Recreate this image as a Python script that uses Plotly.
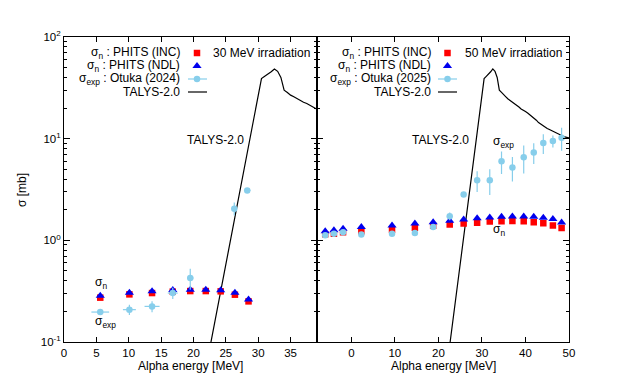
import plotly.graph_objects as go

# ---------------- data ----------------
# 30 MeV irradiation (left panel)
E30_sim = [5.6, 10.1, 13.6, 16.8, 19.5, 21.9, 24.2, 26.4, 28.5]
sig30_inc = [0.273, 0.294, 0.303, 0.313, 0.317, 0.317, 0.315, 0.292, 0.251]
sig30_ndl = [0.285, 0.305, 0.315, 0.325, 0.327, 0.327, 0.322, 0.305, 0.262]
E30_exp = [5.6, 10.1, 13.6, 16.8, 19.5, 26.3, 28.3]
E30_exp_err = [1.37, 1.0, 1.16, 0.77, 0.5, 0.4, 0.5]
sig30_exp = [0.197, 0.208, 0.224, 0.303, 0.426, 2.05, 3.1]
sig30_exp_err = [0.01, 0.024, 0.028, 0.038, 0.1, 0.3, 0.1]

# 50 MeV irradiation (right panel)
E50 = [-6.0, -4.0, -1.9, 2.3, 9.35, 14.6, 18.8, 22.6, 25.8, 28.9, 31.8, 34.5,
       37.0, 39.6, 41.9, 44.1, 46.3, 48.3]
sig50_inc = [1.15, 1.16, 1.20, 1.23, 1.27, 1.33, 1.39, 1.43, 1.46, 1.49, 1.53,
             1.54, 1.55, 1.54, 1.51, 1.47, 1.40, 1.32]
sig50_ndl = [1.23, 1.26, 1.30, 1.35, 1.40, 1.46, 1.51, 1.56, 1.60, 1.65, 1.68,
             1.71, 1.72, 1.72, 1.71, 1.67, 1.62, 1.50]
sig50_exp = [1.12, 1.16, 1.20, 1.14, 1.16, 1.18, 1.35, 1.73, 2.83, 3.89, 3.89,
             5.98, 5.19, 6.55, 7.33, 9.05, 9.47, 10.2]
sig50_exp_err = [0.05, 0.05, 0.05, 0.05, 0.05, 0.05, 0.08, 0.15, 0.15, 0.9, 1.1,
                 1.5, 1.4, 2.0, 1.7, 2.0, 1.3, 2.6]

# TALYS-2.0
E_talys = [22.0, 23, 24, 25, 26, 27, 28, 29, 30, 30.5, 31, 31.5, 32, 32.5, 33,
           33.5, 34, 34.5, 35, 35.5, 36, 36.5, 37, 37.5, 38, 38.5, 39, 39.5, 40,
           40.5, 41, 41.5, 42, 42.5, 43, 43.5, 44, 44.5, 45, 45.5, 46, 46.5, 47,
           47.5, 48, 48.5, 49, 49.5, 50]
sig_talys = [0.0586, 0.126, 0.27, 0.58, 1.25, 2.68, 5.75, 12.4, 26.5, 39, 41,
             43, 45.5, 48.5, 46, 40, 30, 28.5, 26.8, 25.8, 24.6, 23.8, 22.8,
             22.2, 21.2, 20.5, 19.6, 19.2, 18.5, 17.9, 17.2, 16.6, 15.8, 15.2,
             14.4, 13.9, 13.3, 13.0, 12.6, 12.3, 12.0, 11.7, 11.4, 11.1, 10.9,
             10.7, 10.4, 10.3, 10.2]

y_tickvals = [0.1, 1, 10, 100]
y_ticktext = ["10<sup>-1</sup>", "10<sup>0</sup>", "10<sup>1</sup>", "10<sup>2</sup>"]
x30_ticks = [0, 5, 10, 15, 20, 25, 30, 35]
x50_ticks = [0, 10, 20, 30, 40, 50]

RED = "#ff0000"
BLUE = "#0000ee"
SKY = "#87ceeb"
FONT = "Liberation Sans, Arial, sans-serif"

# page body has an 8 px margin; plot area in window pixels: x 64..569, y 37..342
OFF = 8
PX0, PX1, PY0, PY1 = 64, 569, 37, 342
W, H = 634 - OFF, 381 - OFF

fig = go.Figure()

def add_panel(xa, ya, E_sim, inc, ndl, E_exp, exp, exp_err, E_exp_err=None):
    fig.add_trace(go.Scatter(x=E_talys, y=sig_talys, mode="lines",
                             line=dict(color="black", width=1.2),
                             xaxis=xa, yaxis=ya, showlegend=False))
    fig.add_trace(go.Scatter(x=E_sim, y=inc, mode="markers",
                             marker=dict(symbol="square", size=6.5, color=RED),
                             xaxis=xa, yaxis=ya, showlegend=False))
    fig.add_trace(go.Scatter(x=E_sim, y=ndl, mode="markers",
                             marker=dict(symbol="triangle-up", size=8, color=BLUE),
                             xaxis=xa, yaxis=ya, showlegend=False))
    ex = None
    if E_exp_err is not None:
        ex = dict(type="data", array=E_exp_err, color=SKY, thickness=1.2, width=0)
    fig.add_trace(go.Scatter(x=E_exp, y=exp, mode="markers",
                             marker=dict(symbol="circle", size=6.5, color=SKY),
                             error_y=dict(type="data", array=exp_err, color=SKY,
                                          thickness=1.2, width=0),
                             error_x=ex,
                             xaxis=xa, yaxis=ya, showlegend=False))

add_panel("x", "y", E30_sim, sig30_inc, sig30_ndl, E30_exp, sig30_exp,
          sig30_exp_err, E30_exp_err)
add_panel("x2", "y2", E50, sig50_inc, sig50_ndl, E50, sig50_exp, sig50_exp_err)

# ---- legend keys on an overlay pixel axis ----
def legend_keys(xsym, x0, x1, rows):
    fig.add_trace(go.Scatter(x=[xsym], y=[rows[0]], mode="markers",
                             marker=dict(symbol="square", size=6.5, color=RED),
                             xaxis="x3", yaxis="y3", showlegend=False))
    fig.add_trace(go.Scatter(x=[xsym], y=[rows[1]], mode="markers",
                             marker=dict(symbol="triangle-up", size=8, color=BLUE),
                             xaxis="x3", yaxis="y3", showlegend=False))
    fig.add_trace(go.Scatter(x=[x0, xsym, x1], y=[rows[2]] * 3, mode="lines",
                             line=dict(color=SKY, width=1.2),
                             xaxis="x3", yaxis="y3", showlegend=False))
    fig.add_trace(go.Scatter(x=[xsym], y=[rows[2]], mode="markers",
                             marker=dict(symbol="circle", size=6.5, color=SKY),
                             xaxis="x3", yaxis="y3", showlegend=False))
    fig.add_trace(go.Scatter(x=[x0, x1], y=[rows[3]] * 2, mode="lines",
                             line=dict(color="black", width=1.2),
                             xaxis="x3", yaxis="y3", showlegend=False))

rows = [53, 66, 79, 92]
legend_keys(197, 188, 207, rows)
legend_keys(447.5, 438, 457, rows)

ann = []
def txt(x, y, s, xanchor="right", size=12, angle=0):
    # x, y in window pixels -> paper coordinates of the plot area
    xp = (x - PX0) / (PX1 - PX0)
    yp = (PY1 - y) / (PY1 - PY0)
    ann.append(dict(x=xp, y=yp, xref="paper", yref="paper", text=s,
                    showarrow=False, xanchor=xanchor, yanchor="middle",
                    textangle=angle,
                    font=dict(family=FONT, size=size, color="black")))

labels30 = ["σ<sub>n</sub> : PHITS (INC)", "σ<sub>n</sub> : PHITS (NDL)",
            "σ<sub>exp</sub> : Otuka (2024)", "TALYS-2.0"]
labels50 = ["σ<sub>n</sub> : PHITS (INC)", "σ<sub>n</sub> : PHITS (NDL)",
            "σ<sub>exp</sub> : Otuka (2025)", "TALYS-2.0"]
for r, s in zip(rows, labels30):
    txt(182, r, s)
for r, s in zip(rows, labels50):
    txt(432.5, r, s)
txt(312, 53, "30 MeV irradiation")
txt(564, 53, "50 MeV irradiation")

# in-plot labels
txt(215, 140, "TALYS-2.0", xanchor="center")
txt(93, 283, "σ<sub>n</sub>", xanchor="left")
txt(93, 322, "σ<sub>exp</sub>", xanchor="left")
txt(440, 140, "TALYS-2.0", xanchor="center")
txt(491, 142, "σ<sub>exp</sub>", xanchor="left")
txt(491, 230, "σ<sub>n</sub>", xanchor="left")

# axis titles
txt(22, 190, "σ [mb]", xanchor="center", angle=-90)
txt(190, 366, "Alpha energy [MeV]", xanchor="center")
txt(443, 366, "Alpha energy [MeV]", xanchor="center")

fig.update_layout(annotations=ann)

common_x = dict(showline=True, linecolor="black", linewidth=1, mirror="ticks",
                ticks="inside", ticklen=5, tickcolor="black", tickwidth=1,
                showgrid=False, zeroline=False,
                tickfont=dict(family=FONT, size=11.5, color="black"))
minor_y = dict(ticks="inside", ticklen=3, tickcolor="black", tickwidth=1,
               tickmode="array",
               tickvals=[a * m for m in (0.1, 1, 10) for a in range(2, 10)],
               showgrid=False)
common_y = dict(type="log", range=[-1, 2], showline=True, linecolor="black",
                linewidth=1, mirror="ticks", ticks="inside", ticklen=6,
                tickcolor="black", tickwidth=1, showgrid=False, zeroline=False,
                tickmode="array", tickvals=y_tickvals, ticktext=y_ticktext,
                minor=minor_y,
                tickfont=dict(family=FONT, size=11.5, color="black"))

fig.update_layout(
    width=W, height=H,
    margin=dict(l=PX0 - OFF, r=W - (PX1 - OFF), t=PY0 - OFF, b=H - (PY1 - OFF)),
    paper_bgcolor="white", plot_bgcolor="rgba(0,0,0,0)",
    font=dict(family=FONT, size=12, color="black"),
    showlegend=False,
    xaxis=dict(domain=[0, 0.5], range=[0, 39], tickmode="array",
               tickvals=x30_ticks, anchor="y", **common_x),
    xaxis2=dict(domain=[0.5, 1], range=[-8, 50], tickmode="array",
                tickvals=x50_ticks, anchor="y2", **common_x),
    yaxis=dict(domain=[0, 1], anchor="x", **common_y),
    yaxis2=dict(domain=[0, 1], anchor="x2", showticklabels=False, **common_y),
    xaxis3=dict(domain=[0, 1], range=[PX0, PX1], visible=False, anchor="y3",
                fixedrange=True),
    yaxis3=dict(domain=[0, 1], range=[PY1, PY0], visible=False, anchor="x3",
                fixedrange=True),
)

fig.write_html("out.html")
